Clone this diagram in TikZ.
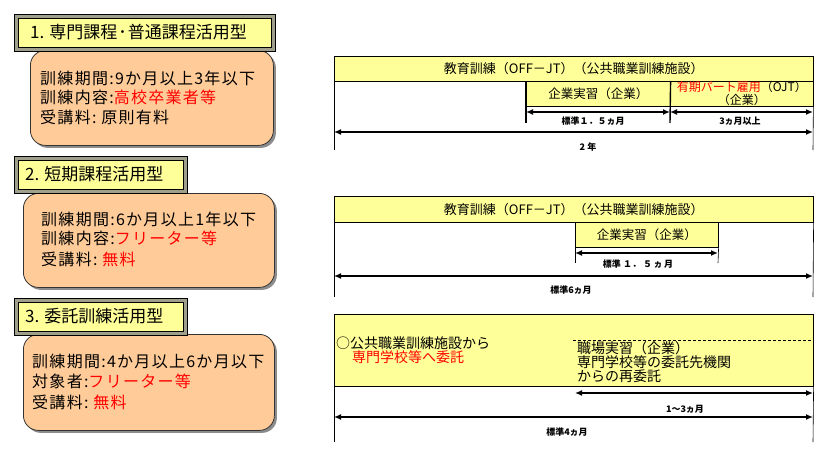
\documentclass[tikz,border=0pt]{standalone}
\usepackage{fontspec}
\setmainfont{Noto Sans CJK JP}
\newfontfamily\jpls[LetterSpace=8]{Noto Sans CJK JP}
\usetikzlibrary{arrows.meta,shadows}
\definecolor{peach}{HTML}{FFCC99}
\definecolor{lyel}{HTML}{FFFF99}
\definecolor{fgray}{HTML}{A09F8C}
\begin{document}
\begin{tikzpicture}[x=1pt,y=-1pt,
  tframe/.style={draw=black,fill=fgray,line width=0.7pt,inner sep=0pt,anchor=north west},
  tbox/.style={draw=black,fill=lyel,line width=0.7pt,inner sep=0pt,anchor=north west},
  ttext/.style={anchor=west,inner sep=0pt,font=\fontsize{17}{20}\selectfont},
  infobox/.style={draw=black!80,fill=peach,line width=0.8pt,rounded corners=15pt,inner sep=0pt,anchor=north west,
     drop shadow={shadow xshift=2.5pt,shadow yshift=-2.5pt,opacity=0.45,fill=black}},
  itext/.style={anchor=west,inner sep=0pt,font=\fontsize{16}{19}\jpls},
  ybox/.style={draw=black,fill=lyel,line width=0.6pt,inner sep=0pt,anchor=north west,align=center},
  ytext/.style={font=\fontsize{13}{15}\selectfont},
  stext/.style={font=\fontsize{12.5}{13}\selectfont},
  mtext/.style={anchor=west,inner sep=0pt,font=\fontsize{14}{14}\selectfont},
  lbl/.style={inner sep=0pt,font=\fontsize{9}{10}\selectfont\bfseries},
  arr/.style={line width=2pt,{Latex[length=7pt,width=6pt]}-{Latex[length=7pt,width=6pt]}},
  side/.style={line width=0.6pt},
  tick/.style={line width=1.4pt}]
\useasboundingbox[fill=white] (0,0) rectangle (825,453);

% ---------- left column ----------
\node[infobox,minimum width=243pt,minimum height=95pt] (b1) at (30,50) {};
\node[infobox,minimum width=251pt,minimum height=94pt] (b2) at (23,193) {};
\node[infobox,minimum width=251pt,minimum height=96pt] (b3) at (23,334) {};

\node[tframe,minimum width=261pt,minimum height=37pt] (tf1) at (14,14) {};
\node[tbox,minimum width=253pt,minimum height=29pt] (tb1) at (18,18) {};
\node[ttext] (tt1) at (30,32.5) {1. 専門課程\kern1pt･\kern1pt 普通課程活用型};

\node[tframe,minimum width=173pt,minimum height=37pt] (tf2) at (14,156) {};
\node[tbox,minimum width=165pt,minimum height=29pt] (tb2) at (18,160) {};
\node[ttext] (tt2) at (25,174.5) {2. 短期課程活用型};

\node[tframe,minimum width=173pt,minimum height=37pt] (tf3) at (14,298) {};
\node[tbox,minimum width=165pt,minimum height=29pt] (tb3) at (18,302) {};
\node[ttext] (tt3) at (25,316.5) {3. 委託訓練活用型};

\node[itext] (i11) at (40,78) {訓練期間:9か月以上3年以下};
\node[itext] (i12) at (40,97.5) {訓練内容:\textcolor{red}{高校卒業者等}};
\node[itext] (i13) at (40,117) {受講料:\ 原則有料};

\node[itext] (i21) at (41,219) {訓練期間:6か月以上1年以下};
\node[itext] (i22) at (41,238.5) {訓練内容:\textcolor{red}{フリーター等}};
\node[itext] (i23) at (41,259) {受講料:\ \textcolor{red}{無料}};

\node[itext] (i31) at (32,361) {訓練期間:4か月以上6か月以下};
\node[itext] (i32) at (32,381.5) {対象者:\textcolor{red}{フリーター等}};
\node[itext] (i33) at (32,402) {受講料:\ \textcolor{red}{無料}};

% ---------- section 1 right ----------
\node[ybox,minimum width=479pt,minimum height=25pt,ytext] (off1) at (334,56) {教育訓練（OFF－JT）（公共職業訓練施設）};
\node[ybox,minimum width=144pt,minimum height=25pt,stext] (kig1) at (526,81) {企業実習（企業）};
\node[ybox,minimum width=143pt,minimum height=25pt,font=\fontsize{12}{13}\selectfont] (ojt1) at (670,81) {\textcolor{red}{有期パート雇用}（OJT）\\（企業）};
\coordinate (s1l) at (334,150);
\coordinate (s1r) at (813,150);
\draw[side] (off1.south west) -- (s1l);
\draw[side] (off1.south east) -- (s1r);
\coordinate (k1l) at (526,123);
\coordinate (k1r) at (670,123);
\draw[tick] (kig1.north west) -- (k1l);
\draw[tick] (kig1.north east) -- (k1r);
\coordinate (a11) at (526,112);
\coordinate (a12) at (670,112);
\coordinate (a13) at (813,112);
\draw[arr] (a11) -- (a12);
\draw[arr] (a12) -- (a13);
\node[lbl] (l11) at (593,121) {標準１．５ヵ月};
\node[lbl] (l12) at (740,121) {3ヵ月以上};
\coordinate (a14) at (334,132);
\coordinate (a15) at (813,132);
\draw[arr] (a14) -- (a15);
\node[lbl] (l13) at (588,147) {2\ 年};

% ---------- section 2 right ----------
\node[ybox,minimum width=479pt,minimum height=26pt,ytext] (off2) at (334,196) {教育訓練（OFF－JT）（公共職業訓練施設）};
\node[ybox,minimum width=143pt,minimum height=25pt,stext] (kig2) at (575,222) {企業実習（企業）};
\coordinate (s2l) at (334,297);
\coordinate (s2r) at (813,297);
\draw[side] (off2.south west) -- (s2l);
\draw[side] (off2.south east) -- (s2r);
\coordinate (k2l) at (575,263);
\coordinate (k2r) at (718,263);
\draw[side] (kig2.south west) -- (k2l);
\draw[side] (kig2.south east) -- (k2r);
\coordinate (a21) at (575,253);
\coordinate (a22) at (718,253);
\draw[arr] (a21) -- (a22);
\node[lbl] (l21) at (638,264) {標準\ １．\ ５\,ヵ\,月};
\coordinate (a23) at (334,276);
\coordinate (a24) at (813,276);
\draw[arr] (a23) -- (a24);
\node[lbl] (l22) at (571,290) {標準6ヵ月};

% ---------- section 3 right ----------
\node[ybox,minimum width=479pt,minimum height=72pt] (box3) at (334,314) {};
\coordinate (d1) at (573,340);
\coordinate (d2) at (813,340);
\draw[side,dash pattern=on 3pt off 2pt] (d1) -- (d2);
\node[mtext] (m1) at (336,343) {○公共職業訓練施設から};
\node[mtext,text=red] (m2) at (352,357.5) {専門学校等へ委託};
\node[mtext] (m3) at (577,348) {職場実習（企業）};
\node[mtext] (m4) at (577,362) {専門学校等の委託先機関};
\node[mtext] (m5) at (577,376) {からの再委託};
\coordinate (s3l) at (334,442);
\coordinate (s3r) at (813,442);
\draw[side] (box3.south west) -- (s3l);
\draw[side] (box3.south east) -- (s3r);
\coordinate (a31) at (575,393);
\coordinate (a32) at (813,393);
\draw[arr] (a31) -- (a32);
\node[lbl] (l31) at (685,409) {1～3ヵ月};
\coordinate (a33) at (334,417);
\coordinate (a34) at (813,417);
\draw[arr] (a33) -- (a34);
\node[lbl] (l32) at (567,432) {標準4ヵ月};
\end{tikzpicture}
\end{document}
